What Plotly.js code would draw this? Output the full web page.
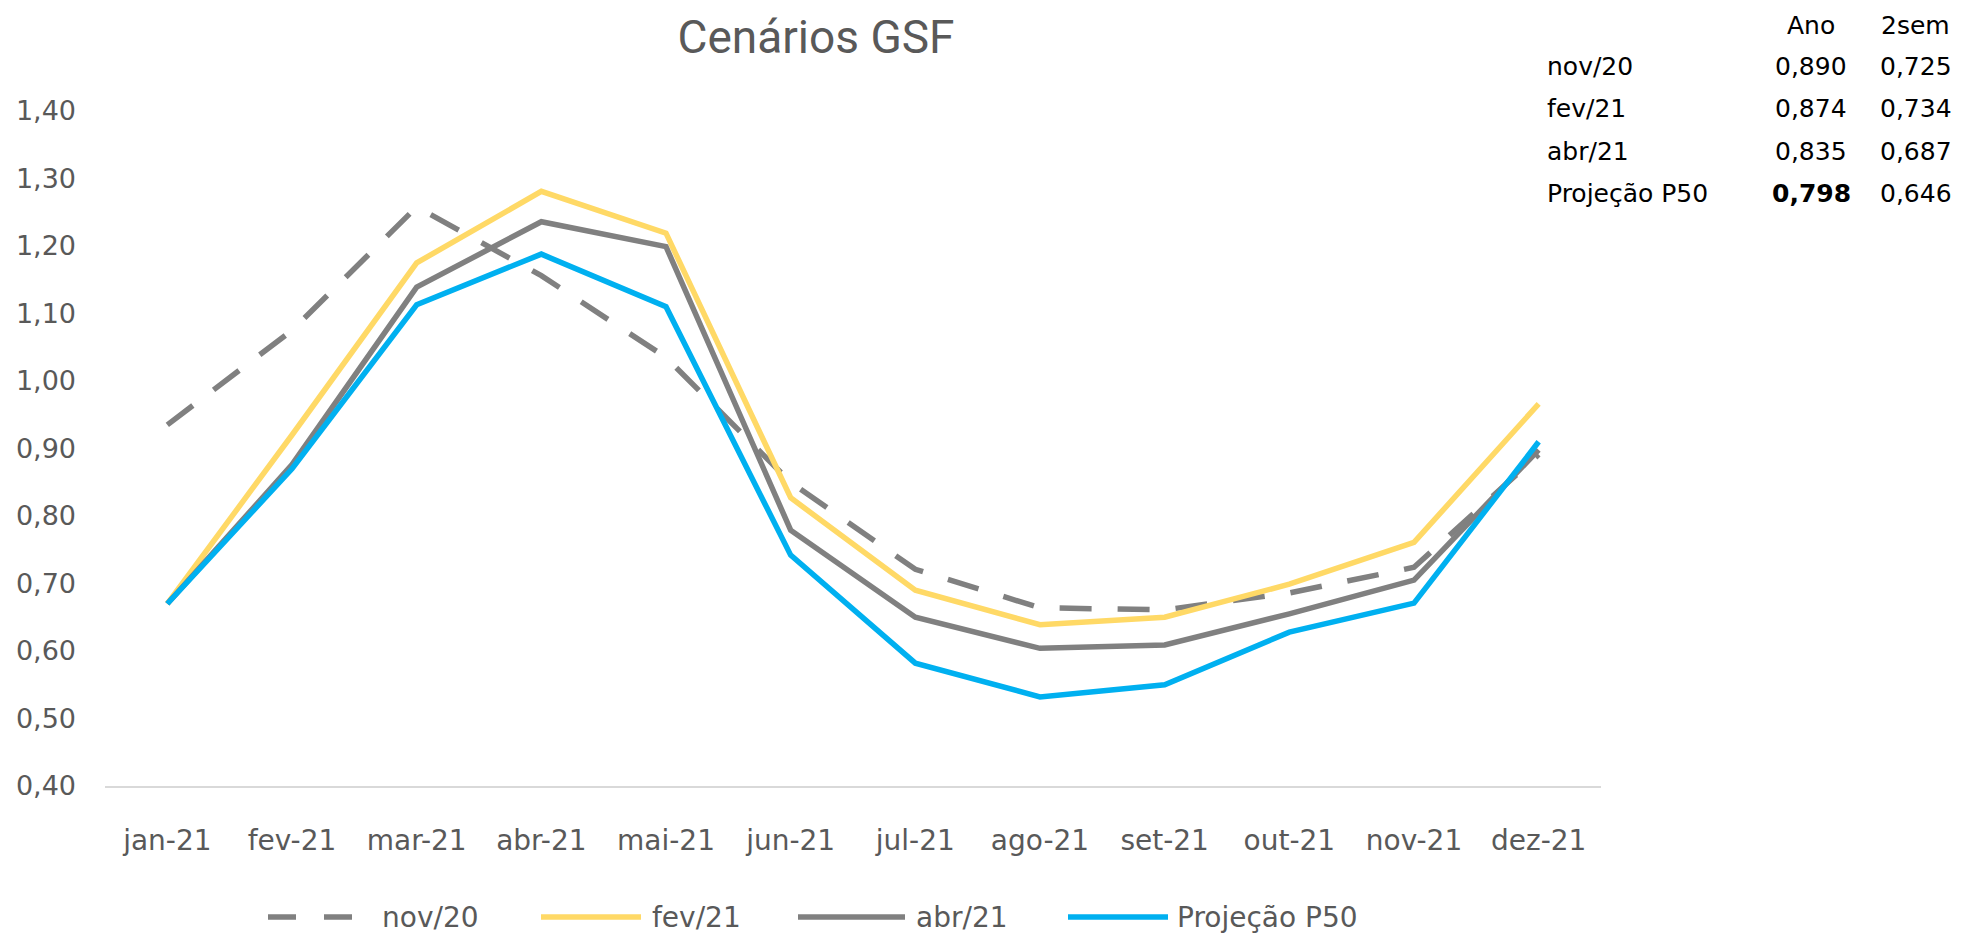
<!DOCTYPE html>
<html>
<head>
<meta charset="utf-8">
<script src="https://cdn.plot.ly/plotly-3.0.1.min.js"></script>
<style>
  html, body { margin: 0; padding: 0; background: #ffffff; }
  #chart { width: 1970px; height: 937px; }
</style>
</head>
<body>
<div id="chart"></div>
<script>
// ---------------- DATA ----------------
const months = ['jan-21','fev-21','mar-21','abr-21','mai-21','jun-21','jul-21','ago-21','set-21','out-21','nov-21','dez-21'];

const seriesNames = ['nov/20', 'fev/21', 'abr/21', 'Projeção P50'];
const nov20 = [0.935, 1.075, 1.258, 1.156, 1.035, 0.850, 0.721, 0.664, 0.661, 0.686, 0.724, 0.891];
const fev21 = [0.670, 0.920, 1.175, 1.281, 1.219, 0.827, 0.690, 0.639, 0.650, 0.699, 0.761, 0.966];
const abr21 = [0.670, 0.876, 1.139, 1.236, 1.199, 0.779, 0.650, 0.604, 0.609, 0.655, 0.705, 0.898];
const p50   = [0.670, 0.870, 1.113, 1.188, 1.110, 0.742, 0.582, 0.532, 0.550, 0.628, 0.671, 0.910];

const tableHeader = ['Ano', '2sem'];
const tableRows = ['nov/20', 'fev/21', 'abr/21', 'Projeção P50'];
const tableAno  = [0.890, 0.874, 0.835, 0.798];
const tableSem2 = [0.725, 0.734, 0.687, 0.646];
const tableBold = [false, false, false, true];

const yTickVals = [0.40, 0.50, 0.60, 0.70, 0.80, 0.90, 1.00, 1.10, 1.20, 1.30, 1.40];

// ---------------- STYLE / LAYOUT ----------------
const W = 1970, H = 937;
const PLOT = { l: 105, r: 1601, t: 111, b: 786 };
function px(X) { return (X - PLOT.l) / (PLOT.r - PLOT.l); }
function py(Y) { return (PLOT.b - Y) / (PLOT.b - PLOT.t); }

const colors = ['#808080', '#FFD966', '#808080', '#00B0F0'];
const dashes = ['32px,26px', 'solid', 'solid', 'solid'];
const widths = [5.5, 5.5, 5.5, 5.5];
const allSeries = [nov20, fev21, abr21, p50];

const textGray = '#595959';
const FONT = 'DejaVu Sans, sans-serif';

const traces = allSeries.map((vals, i) => ({
  type: 'scatter',
  mode: 'lines',
  name: seriesNames[i],
  x: months,
  y: vals,
  line: { color: colors[i], width: widths[i], dash: dashes[i] },
  hoverinfo: 'x+y+name',
  showlegend: false
}));

// custom legend (long line symbols like the original)
const legendY = 917;
const legendSym = [[268, 359], [541, 641], [798, 905], [1068, 1168]];
const legendTxt = [380, 650, 914, 1175];
const shapes = [];
const annotations = [];
seriesNames.forEach((nm, i) => {
  shapes.push({
    type: 'line', xref: 'paper', yref: 'paper',
    x0: px(legendSym[i][0]), x1: px(legendSym[i][1]),
    y0: py(legendY), y1: py(legendY),
    line: { color: colors[i], width: widths[i], dash: i === 0 ? '28px,28px' : 'solid' }
  });
  annotations.push({
    xref: 'paper', yref: 'paper',
    x: px(legendTxt[i]), y: py(legendY),
    xanchor: 'left', yanchor: 'middle',
    text: nm, showarrow: false,
    font: { family: FONT, size: 28, color: textGray }
  });
});

// table at top right
const fmt3 = v => v.toFixed(3).replace('.', ',');
const colX = [1811, 1916];
const rowLabelX = 1545;
const headerY = 25;
const rowY = [67, 109, 151, 193];
const tableFont = { family: FONT, size: 25, color: '#000000' };
tableHeader.forEach((h, j) => {
  annotations.push({
    xref: 'paper', yref: 'paper', x: px(colX[j]), y: py(headerY),
    xanchor: 'center', yanchor: 'middle', text: h, showarrow: false, font: tableFont
  });
});
tableRows.forEach((r, k) => {
  annotations.push({
    xref: 'paper', yref: 'paper', x: px(rowLabelX), y: py(rowY[k]),
    xanchor: 'left', yanchor: 'middle', text: r, showarrow: false, font: tableFont
  });
  const anoTxt = tableBold[k] ? '<b>' + fmt3(tableAno[k]) + '</b>' : fmt3(tableAno[k]);
  annotations.push({
    xref: 'paper', yref: 'paper', x: px(colX[0]), y: py(rowY[k]),
    xanchor: 'center', yanchor: 'middle', text: anoTxt, showarrow: false, font: tableFont
  });
  annotations.push({
    xref: 'paper', yref: 'paper', x: px(colX[1]), y: py(rowY[k]),
    xanchor: 'center', yanchor: 'middle', text: fmt3(tableSem2[k]), showarrow: false, font: tableFont
  });
});

const layout = {
  width: W, height: H, autosize: false,
  paper_bgcolor: '#ffffff', plot_bgcolor: '#ffffff',
  separators: ',.',
  margin: { l: PLOT.l, r: W - PLOT.r, t: PLOT.t, b: H - PLOT.b, pad: 0 },
  title: {
    text: 'Cenários GSF',
    font: { family: 'Roboto, sans-serif', size: 46, color: textGray },
    xref: 'container', yref: 'container',
    x: 816 / W, xanchor: 'center',
    y: 1 - 37 / H, yanchor: 'middle'
  },
  xaxis: {
    type: 'category',
    categoryorder: 'array', categoryarray: months,
    range: [-0.5, months.length - 0.5],
    showgrid: false, zeroline: false,
    showline: true, linecolor: '#D9D9D9', linewidth: 2,
    ticks: '', ticklabelstandoff: 28,
    tickfont: { family: FONT, size: 28, color: textGray },
    fixedrange: true
  },
  yaxis: {
    range: [0.40, 1.40],
    tickmode: 'array', tickvals: yTickVals,
    tickformat: '.2f',
    showgrid: false, zeroline: false, showline: false,
    ticks: '', ticklabelstandoff: 28,
    tickfont: { family: FONT, size: 27, color: textGray },
    fixedrange: true
  },
  showlegend: false,
  shapes: shapes,
  annotations: annotations
};

Plotly.newPlot('chart', traces, layout, { displayModeBar: false, staticPlot: false, responsive: false });
</script>
</body>
</html>
